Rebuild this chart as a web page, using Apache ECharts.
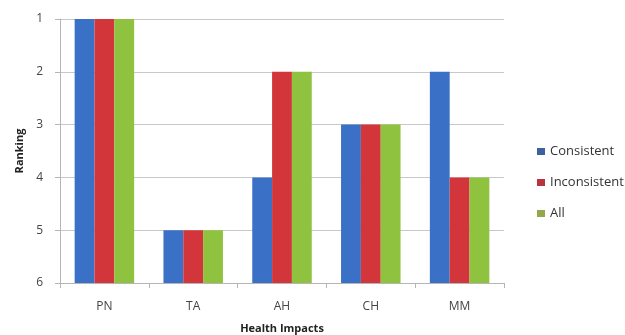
<!DOCTYPE html>
<html>
<head>
<meta charset="utf-8">
<script src="https://cdn.jsdelivr.net/npm/echarts@6/dist/echarts.min.js"></script>
<style>
  html, body { margin: 0; padding: 0; background: #fff; }
  #chart { width: 625px; height: 335px; }
</style>
</head>
<body>
<div id="chart"></div>
<script>
// Rankings of health impacts (1 = highest rank, 6 = axis floor)
const categories = ['PN', 'TA', 'AH', 'CH', 'MM'];
const consistent = [1, 5, 4, 3, 2];
const inconsistent = [1, 5, 2, 3, 4];
const allGroups = [1, 5, 2, 3, 4];
const rankTicks = [1, 2, 3, 4, 5, 6];

// Bars rise from the lowest rank (6) up to each rank value, so the
// value axis runs on (floor - rank) and its labels show the rank again.
const FLOOR = rankTicks[rankTicks.length - 1];
const toHeight = arr => arr.map(r => FLOOR - r);

const font = 'Open Sans, Liberation Sans, sans-serif';
const chart = echarts.init(document.getElementById('chart'));

const seriesDefs = [
  { name: 'Consistent', data: consistent, color: '#3a70c6', key: '#3d609e' },
  { name: 'Inconsistent', data: inconsistent, color: '#d3363a', key: '#b8353f' },
  { name: 'All', data: allGroups, color: '#8fc33f', key: '#93a84c' }
];

chart.setOption({
  animation: false,
  textStyle: { fontFamily: font },
  grid: { left: 60, right: 121, top: 19, bottom: 52, outerBoundsMode: 'none' },
  legend: {
    orient: 'vertical',
    left: 532,
    top: 140,
    itemWidth: 8,
    itemHeight: 7,
    itemGap: 18,
    icon: 'rect',
    textStyle: { fontFamily: font, fontSize: 13, color: '#333' },
    data: seriesDefs.map(s => ({ name: s.name, itemStyle: { color: s.key } }))
  },
  xAxis: {
    type: 'category',
    data: categories,
    name: 'Health Impacts',
    nameLocation: 'middle',
    nameGap: 40,
    nameTextStyle: { fontFamily: font, fontSize: 11, fontWeight: 'bold', color: '#222' },
    axisLine: { lineStyle: { color: '#b5b5b5' } },
    axisTick: { show: true, length: 5, lineStyle: { color: '#b5b5b5' } },
    axisLabel: { fontFamily: font, fontSize: 12, color: '#444', margin: 18 }
  },
  yAxis: {
    type: 'value',
    min: 0,
    max: FLOOR - rankTicks[0],
    interval: 1,
    name: 'Ranking',
    nameLocation: 'middle',
    nameGap: 33,
    nameRotate: 90,
    nameTextStyle: { fontFamily: font, fontSize: 11, fontWeight: 'bold', color: '#222' },
    axisLine: { show: true, lineStyle: { color: '#b5b5b5' } },
    axisTick: { show: true, length: 5, lineStyle: { color: '#b5b5b5' } },
    splitLine: { lineStyle: { color: '#c8c8c8' } },
    axisLabel: {
      fontFamily: font, fontSize: 12, color: '#444', margin: 17,
      formatter: v => String(FLOOR - v)
    }
  },
  series: seriesDefs.map(s => ({
    name: s.name,
    type: 'bar',
    data: toHeight(s.data),
    itemStyle: { color: s.color },
    barGap: '0%',
    barCategoryGap: '33%'
  }))
});
</script>
</body>
</html>
